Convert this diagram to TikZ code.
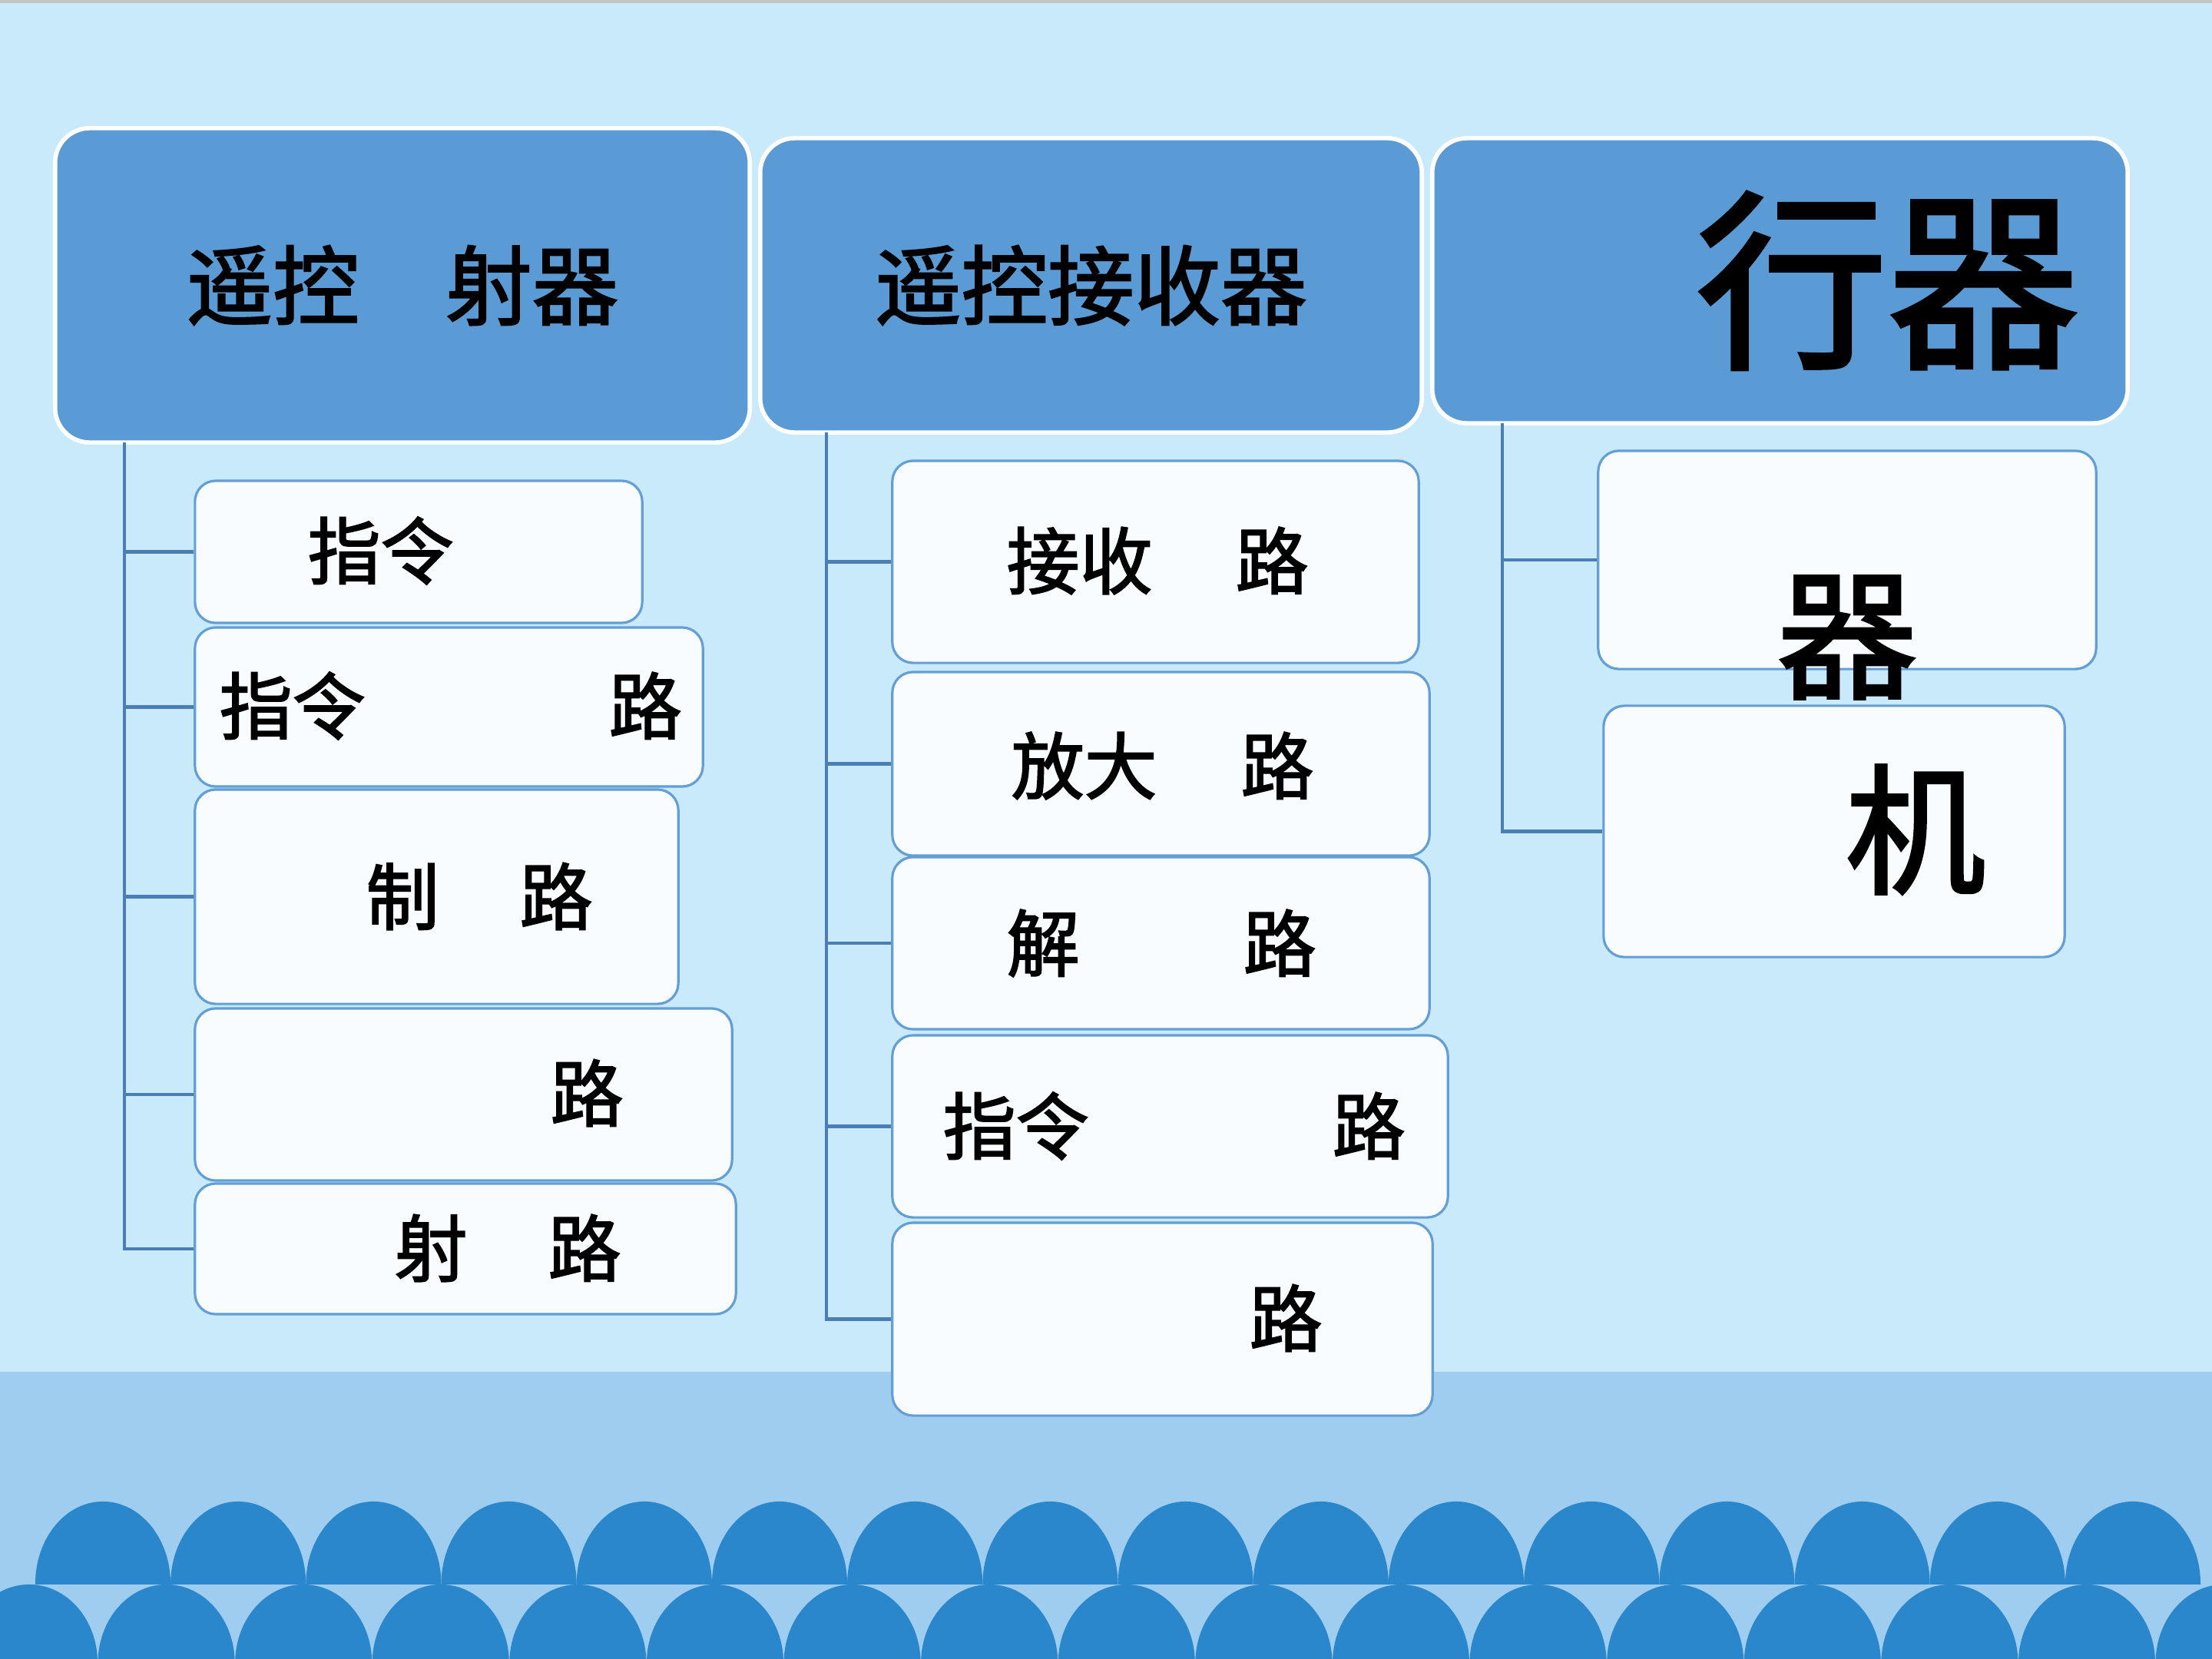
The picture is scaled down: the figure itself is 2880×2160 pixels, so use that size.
\documentclass[tikz,border=0pt]{standalone}
\usepackage{fontspec}
\newfontfamily\cjk[UprightFeatures={FakeBold=2}]{Noto Sans CJK SC}
\definecolor{bgtop}{HTML}{C8EAFB}
\definecolor{bgband}{HTML}{9FCDF0}
\definecolor{topgrey}{HTML}{C4C4C4}
\definecolor{dome}{HTML}{2A87CC}
\definecolor{headblue}{HTML}{5B9BD5}
\definecolor{boxline}{HTML}{639FD6}
\definecolor{boxwhite}{HTML}{F8FCFF}
\definecolor{treeline}{HTML}{4A7EB5}
\tikzset{
  headbox/.style={rectangle, rounded corners=0.45cm, fill=headblue, draw=white,
    line width=1.6pt, inner sep=0pt, font=\cjk\fontsize{32}{38}\selectfont},
  subbox/.style={rectangle, rounded corners=0.27cm, fill=boxwhite, draw=boxline,
    line width=0.9pt, inner sep=0pt},
  subtext/.style={inner sep=0pt, anchor=west, font=\cjk\fontsize{27}{32}\selectfont},
  bigtext/.style={inner sep=0pt, font=\cjk\fontsize{52}{60}\selectfont},
  branch/.style={draw=treeline, line width=1.2pt},
}
\begin{document}
\begin{tikzpicture}[x=0.01cm,y=-0.01cm]
  \useasboundingbox (0,0) rectangle (2880,2160);
  % background and scallops
  \fill[bgtop] (0,0) rectangle (2880,2160);
  \fill[topgrey] (0,0) rectangle (2880,4);
  \fill[bgband] (0,1786) rectangle (2880,2160);
  \begin{scope}
    \clip (0,0) rectangle (2880,2062);
    \foreach \i in {0,...,15}
      \fill[dome] (134+176.2*\i,2062) ellipse [x radius=0.88cm, y radius=1.07cm];
  \end{scope}
  \begin{scope}
    \clip (0,0) rectangle (2880,2160);
    \foreach \i in {0,...,16}
      \fill[dome] (38+178.6*\i,2165) ellipse [x radius=0.89cm, y radius=1.02cm];
  \end{scope}

  % headers
  \node[headbox, minimum width=9.04cm, minimum height=4.09cm] (h1) at (524,371.5) {遥控　射器};
  \node[headbox, minimum width=8.61cm, minimum height=3.83cm] (h2) at (1420.5,371.5) {遥控接收器};
  \node[headbox, minimum width=9.05cm, minimum height=3.71cm, font=\cjk\fontsize{71}{80}\selectfont] (h3) at (2317.5,365.5) {\hspace{2.8cm}行器};

  % left column
  \node[subbox, minimum width=5.82cm, minimum height=1.85cm] (l1) at (545,718.5) {};
  \node[subbox, minimum width=6.61cm, minimum height=2.07cm] (l2) at (584.5,920.5) {};
  \node[subbox, minimum width=6.29cm, minimum height=2.79cm] (l3) at (568.5,1167.5) {};
  \node[subbox, minimum width=6.99cm, minimum height=2.24cm] (l4) at (603.5,1425) {};
  \node[subbox, minimum width=7.04cm, minimum height=1.70cm] (l5) at (606,1626) {};
  \node[subtext] (l1t) at (400,717) {指令};
  \node[subtext] (l2t) at (285,919) {指令\hspace{3.17cm}路};
  \node[subtext] (l3t) at (476,1167) {制\hspace{1.05cm}路};
  \node[subtext] (l4t) at (716,1423) {路};
  \node[subtext] (l5t) at (513,1625) {射\hspace{1.05cm}路};

  % middle column
  \node[subbox, minimum width=6.85cm, minimum height=2.63cm] (m1) at (1504.5,731.5) {};
  \node[subbox, minimum width=6.99cm, minimum height=2.39cm] (m2) at (1511.5,994.5) {};
  \node[subbox, minimum width=6.99cm, minimum height=2.24cm] (m3) at (1511.5,1228) {};
  \node[subbox, minimum width=7.23cm, minimum height=2.37cm] (m4) at (1523.5,1466.5) {};
  \node[subbox, minimum width=7.03cm, minimum height=2.51cm] (m5) at (1513.5,1717.5) {};
  \node[subtext] (m1t) at (1310,730) {接收\hspace{1.08cm}路};
  \node[subtext] (m2t) at (1316,997) {放大\hspace{1.09cm}路};
  \node[subtext] (m3t) at (1310,1228) {解\hspace{2.13cm}路};
  \node[subtext] (m4t) at (1227,1466) {指令\hspace{3.17cm}路};
  \node[subtext] (m5t) at (1626,1716) {路};

  % right column
  \node[subbox, minimum width=6.48cm, minimum height=2.84cm] (r1) at (2405,729) {};
  \node[subbox, minimum width=6.00cm, minimum height=3.27cm] (r2) at (2388,1082.5) {};
  \node[bigtext] (r1t) at (2405,830) {器};
  \node[bigtext] (r2t) at (2494,1080) {机};

  % tree lines
  \coordinate (t1) at (162,576);
  \coordinate (t2) at (1076,563);
  \coordinate (t3) at (1956,551);
  \draw[branch] (t1) |- (l1.west);
  \draw[branch] (t1) |- (l2.west);
  \draw[branch] (t1) |- (l3.west);
  \draw[branch] (t1) |- (l4.west);
  \draw[branch] (t1) |- (l5.west);
  \draw[branch] (t2) |- (m1.west);
  \draw[branch] (t2) |- (m2.west);
  \draw[branch] (t2) |- (m3.west);
  \draw[branch] (t2) |- (m4.west);
  \draw[branch] (t2) |- (m5.west);
  \draw[branch] (t3) |- (r1.west);
  \draw[branch] (t3) |- (r2.west);
\end{tikzpicture}
\end{document}
